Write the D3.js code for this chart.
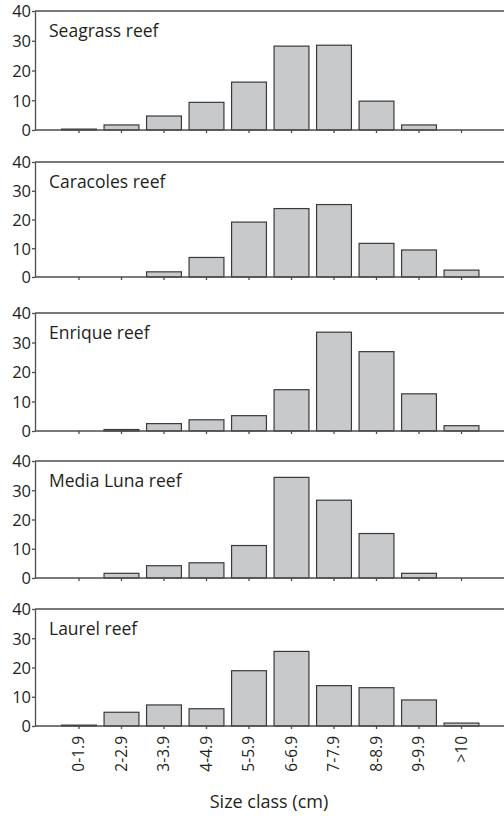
<!DOCTYPE html>
<html>
<head>
    <meta charset="utf-8">
    <style>
        body { margin: 0; background: #fff; }
        text { font-family: "Open Sans", "DejaVu Sans", sans-serif; fill: #231f20; }
    </style>
    <script src="https://d3js.org/d3.v7.min.js"></script>
</head>
<body>
<div id="chart"></div>
<script>

    // size classes (cm)
    var sizeClasses = ["0-1.9", "2-2.9", "3-3.9", "4-4.9", "5-5.9", "6-6.9", "7-7.9", "8-8.9", "9-9.9", ">10"];

    var reefNames = ["Seagrass reef", "Caracoles reef", "Enrique reef", "Media Luna reef", "Laurel reef"];

    // frequency (%) per size class
    var seagrass  = [0.3, 1.7, 4.7, 9.3, 16.1, 28.2, 28.5, 9.7, 1.7, 0];
    var caracoles = [0, 0, 1.8, 6.8, 19.1, 23.8, 25.2, 11.7, 9.4, 2.4];
    var enrique   = [0, 0.5, 2.5, 3.8, 5.2, 14.0, 33.5, 26.9, 12.6, 1.8];
    var mediaLuna = [0, 1.6, 4.2, 5.2, 11.1, 34.4, 26.6, 15.2, 1.6, 0];
    var laurel    = [0.3, 4.7, 7.2, 5.9, 18.9, 25.5, 13.8, 13.1, 8.9, 1.0];

    var yTicks = [0, 10, 20, 30, 40];

    var series = [seagrass, caracoles, enrique, mediaLuna, laurel];

    var W = 504, H = 816;
    var left = 35, right = 505.5;
    // panel frames (top line, baseline)
    var panelTops  = [11, 162, 313, 461, 609],
        panelBases = [130, 277, 431, 578, 726];

    var svg = d3.select("#chart").append("svg")
        .attr("width", W)
        .attr("height", H);

    var x = d3.scaleBand()
        .domain(sizeClasses)
        .range([left, right])
        .paddingInner(0.18)
        .paddingOuter(0.625);

    series.forEach(function(vals, p) {

        var top = panelTops[p],
            base = panelBases[p];

        var y = d3.scaleLinear().domain([0, 40]).range([base, top]);

        var g = svg.append("g");

        // top frame line
        g.append("line")
            .attr("x1", left).attr("x2", W + 2)
            .attr("y1", top).attr("y2", top)
            .attr("stroke", "#4d4d4f")
            .attr("stroke-width", 1.3);

        g.selectAll("rect.bar")
            .data(vals.map(function(v, i) { return { cls: sizeClasses[i], v: v }; }).filter(function(d) { return d.v > 0; }))
            .enter()
            .append("rect")
            .attr("class", "bar")
            .attr("x", function(d) { return x(d.cls); })
            .attr("width", x.bandwidth())
            .attr("y", function(d) { return y(d.v); })
            .attr("height", function(d) { return base - y(d.v); })
            .attr("fill", "#c8c9cb")
            .attr("stroke", "#3a3a3c")
            .attr("stroke-width", 1.2);

        var yAxis = g.append("g")
            .attr("transform", "translate(" + left + ",0)")
            .call(d3.axisLeft(y).tickValues(yTicks).tickSize(3).tickSizeOuter(0).tickPadding(1));

        var xAxis = g.append("g")
            .attr("transform", "translate(0," + base + ")")
            .call(d3.axisBottom(x).tickSize(3).tickSizeOuter(0));

        xAxis.select(".domain").attr("d", "M" + left + ",0H" + (W + 2));

        [yAxis, xAxis].forEach(function(a) {
            a.selectAll(".domain, line").attr("stroke", "#4d4d4f").attr("stroke-width", 1.3);
        });

        yAxis.selectAll("text")
            .style("font-size", "16.5px")
            .attr("dy", "0.36em");

        if (p < series.length - 1) {
            xAxis.selectAll("text").remove();
        } else {
            xAxis.selectAll("text")
                .style("font-size", "15.5px")
                .attr("text-anchor", "end")
                .attr("transform", "rotate(-90)")
                .attr("x", -10)
                .attr("y", 0)
                .attr("dy", "0.35em");
        }

        g.append("text")
            .attr("x", 49)
            .attr("y", top + 26)
            .style("font-size", "17.5px")
            .text(reefNames[p]);
    });

    svg.append("text")
        .attr("x", 269)
        .attr("y", 808)
        .attr("text-anchor", "middle")
        .style("font-size", "18px")
        .text("Size class (cm)");

</script>
</body>
</html>
